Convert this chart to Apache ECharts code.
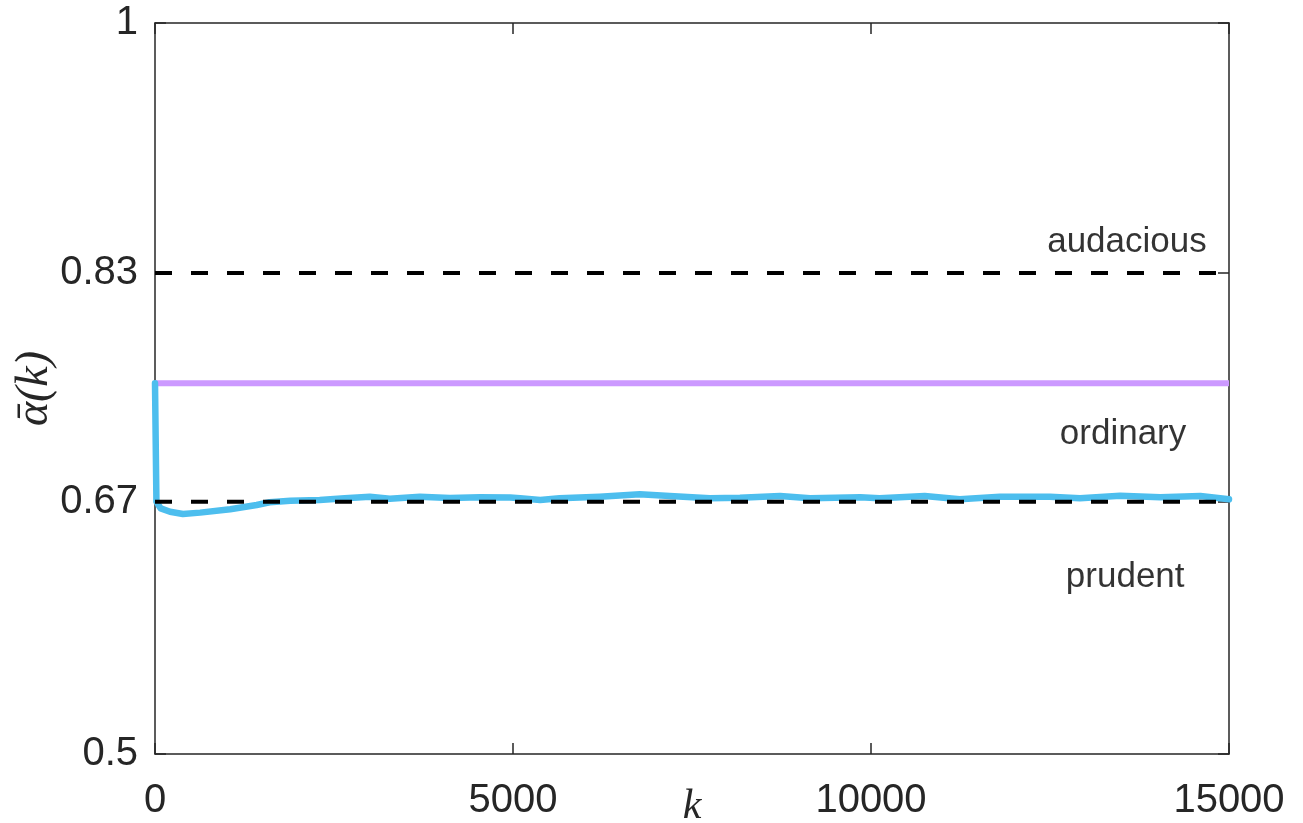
<!DOCTYPE html>
<html>
<head>
<meta charset="utf-8">
<script src="https://cdn.jsdelivr.net/npm/echarts@6/dist/echarts.min.js"></script>
<style>
  html, body { margin: 0; padding: 0; background: #fff; }
  #chart { width: 1303px; height: 823px; }
</style>
</head>
<body>
<div id="chart"></div>
<script>
// 横轴刻度
const xTicks = [0, 5000, 10000, 15000];
// 纵轴刻度（不等距）及其文字
const yTickValues = [0.5, 0.6726, 0.829, 1];
const yTickLabels = ['0.5', '0.67', '0.83', '1'];

// 水平参考线
const levelK = [0, 15000];
const audaciousLine = [0.829, 0.829];
const prudentLine = [0.6726, 0.6726];
const ordinaryLine = [0.7536, 0.7536];

// 平均值曲线 (k, alpha)
const alphaK = [0, 20, 80, 210, 390, 630, 1050, 1420, 1600, 1890, 2300, 2650, 3000, 3280,
    3700, 4120, 4540, 4960, 5100, 5380, 5650, 6210, 6770, 7190, 7750, 8170, 8730, 9150,
    9850, 10120, 10750, 11240, 11800, 12500, 12920, 13480, 14040, 14600, 15000];
const alphaBar = [0.7536, 0.6726, 0.668, 0.6657, 0.6642, 0.6651, 0.6674, 0.6703, 0.6722,
    0.6733, 0.6737, 0.6749, 0.6760, 0.6746, 0.6760, 0.6751, 0.6756, 0.6754, 0.6749, 0.6737,
    0.6749, 0.6760, 0.6776, 0.6765, 0.6749, 0.6753, 0.6765, 0.6749, 0.6756, 0.6749, 0.6765,
    0.6742, 0.6760, 0.6760, 0.6749, 0.6767, 0.6756, 0.6765, 0.6742];

// 区域文字
const annoText = ['audacious', 'ordinary', 'prudent'];
const annoK = [13575, 13520, 13550];
const annoVal = [0.8500, 0.7185, 0.6207];

const axisColor = '#262626';
const tickFont = "'Liberation Sans', Arial, sans-serif";
const mathFont = "'Liberation Serif', 'DejaVu Serif', serif";

function pairs(xs, ys) {
    return xs.map(function (x, i) { return [x, ys[i]]; });
}

function refLine(name, ys, color, width, type, z) {
    return {
        name: name,
        type: 'line',
        data: pairs(levelK, ys),
        symbol: 'none',
        silent: true,
        z: z,
        lineStyle: { color: color, width: width, type: type }
    };
}

var myChart = echarts.init(document.getElementById('chart'), null, { renderer: 'canvas' });

var xAxisBase = {
    type: 'value',
    min: 0,
    max: 15000,
    interval: 5000,
    axisLine: { show: true, onZero: false, lineStyle: { color: axisColor, width: 1.5 } },
    axisTick: { show: true, inside: true, length: 11, lineStyle: { color: axisColor, width: 1.5 } },
    splitLine: { show: false }
};
var yAxisBase = {
    type: 'value',
    min: 0.5,
    max: 1,
    axisLine: { show: true, onZero: false, lineStyle: { color: axisColor, width: 1.5 } },
    axisTick: { show: true, inside: true, length: 11, customValues: yTickValues,
        lineStyle: { color: axisColor, width: 1.5 } },
    splitLine: { show: false }
};

var option = {
    backgroundColor: '#fff',
    animation: false,
    grid: { left: 155, right: 74, top: 23, bottom: 69, containLabel: false, outerBoundsMode: 'none' },
    xAxis: [
        Object.assign({}, xAxisBase, {
            position: 'bottom',
            name: 'k',
            nameLocation: 'middle',
            nameGap: 32,
            nameMoveOverlap: false,
            nameTextStyle: { fontFamily: mathFont, fontStyle: 'italic', fontSize: 42, color: axisColor },
            axisLabel: { show: true, margin: 27, fontSize: 40, fontFamily: tickFont, color: axisColor,
                showMinLabel: true, showMaxLabel: true,
                formatter: function (v) { return String(v); } }
        }),
        Object.assign({}, xAxisBase, {
            position: 'top',
            axisLabel: { show: false }
        })
    ],
    yAxis: [
        Object.assign({}, yAxisBase, {
            position: 'left',
            name: '\u1FB1(k)',
            nameLocation: 'middle',
            nameGap: 97,
            nameRotate: 90,
            nameMoveOverlap: false,
            nameTextStyle: { fontFamily: mathFont, fontStyle: 'italic', fontSize: 46, color: axisColor },
            axisLabel: {
                show: true, margin: 17, fontSize: 40, fontFamily: tickFont, color: axisColor,
                customValues: yTickValues,
                formatter: function (v) {
                    var i = yTickValues.indexOf(v);
                    return i >= 0 ? yTickLabels[i] : '';
                }
            }
        }),
        Object.assign({}, yAxisBase, {
            position: 'right',
            axisLabel: { show: false }
        })
    ],
    series: [
        refLine('ordinary', ordinaryLine, '#CC99FF', 6, 'solid', 2),
        {
            name: 'alpha',
            type: 'line',
            data: pairs(alphaK, alphaBar),
            symbol: 'none',
            z: 3,
            lineStyle: { color: '#4DBEEE', width: 6.5, cap: 'round', join: 'round' }
        },
        refLine('audacious', audaciousLine, '#000', 4, [17, 19], 4),
        refLine('prudent', prudentLine, '#000', 4, [17, 19], 4),
        {
            name: 'labels',
            type: 'scatter',
            data: pairs(annoK, annoVal),
            symbolSize: 0,
            silent: true,
            z: 5,
            label: {
                show: true,
                position: 'inside',
                fontSize: 35,
                fontFamily: tickFont,
                color: '#000',
                formatter: function (p) { return annoText[p.dataIndex]; }
            }
        }
    ]
};

myChart.setOption(option, true);
</script>
</body>
</html>
